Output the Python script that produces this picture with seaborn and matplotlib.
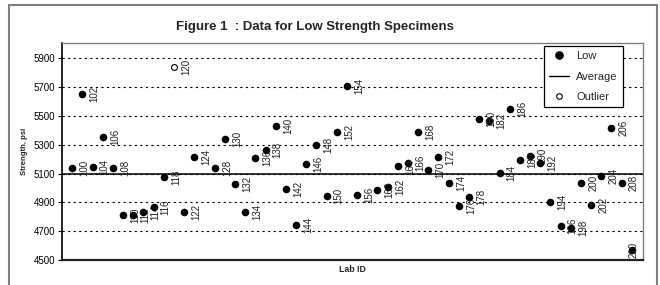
import matplotlib
matplotlib.use("Agg")
import matplotlib.pyplot as plt
import seaborn as sns
import pandas as pd
from matplotlib.lines import Line2D
from matplotlib.patches import Rectangle

# ---- data ----
low_labs = [100, 102, 104, 106, 108, 110, 112, 114, 116, 118, 122, 124,
            128, 130, 132, 134, 136, 138, 140, 142, 144, 146, 148, 150, 152, 154, 156,
            160, 162, 164, 166, 168, 170, 172, 174, 176, 178, 180, 182, 184,
            186, 188, 190, 192, 194, 196, 198, 200, 202, 204, 206, 208, 210]
low_strength = [5137, 5650, 5146, 5357, 5137, 4813, 4813, 4834, 4867, 5075, 4834, 5218,
                5137, 5338, 5026, 4834, 5206, 5266, 5428, 4996, 4746, 5167, 5296, 4945, 5389, 5710, 4954,
                4987, 5005, 5149, 5176, 5389, 5125, 5218, 5035, 4876, 4936, 5477, 5468, 5107,
                5549, 5197, 5225, 5176, 4903, 4735, 4723, 5033, 4885, 5086, 5417, 5033, 4571]
outlier_labs = [120]
outlier_strength = [5842]
average_strength = 5100
y_ticks = [4500, 4700, 4900, 5100, 5300, 5500, 5700, 5900]
legend_labels = ["Low", "Average", "Outlier"]
title_text = "Figure 1  : Data for Low Strength Specimens"
x_label = "Lab ID"
y_label = "Strength, psi"

sns.set_theme(style="white")
plt.rcParams['font.family'] = ['Liberation Sans', 'DejaVu Sans']
plt.rcParams['lines.scale_dashes'] = False

W, H = 660, 285
fig = plt.figure(figsize=(W / 100, H / 100), dpi=100)
fig.patch.set_facecolor("white")
ax = fig.add_axes([62 / W, 1 - 260 / H, (643 - 62) / W, (260 - 43.3) / H])

df_low = pd.DataFrame({"lab": low_labs, "strength": low_strength})
df_out = pd.DataFrame({"lab": outlier_labs, "strength": outlier_strength})

# gridlines
for yv in y_ticks[1:]:
    ax.axhline(yv, color="black", lw=0.8, ls=(0, (1.6, 2.4)), zorder=1)
# average line
ax.axhline(average_strength, color="black", lw=1.1, zorder=2)

sns.scatterplot(data=df_low, x="lab", y="strength", ax=ax, color="black",
                s=30, linewidth=0, zorder=3, legend=False)
sns.scatterplot(data=df_out, x="lab", y="strength", ax=ax, color="white",
                edgecolor="black", s=18, linewidth=0.8, zorder=3, legend=False)

xmin, xmax = 98, 212.2
for lab, val in list(zip(low_labs, low_strength)) + list(zip(outlier_labs, outlier_strength)):
    off = 8.8 if lab < 209 else 1.5
    ax.annotate(str(lab), (lab, val), xytext=(off, 0), textcoords="offset points",
                rotation=90, ha="center", va="center", fontsize=7, color="#222222",
                zorder=4)

ax.set_xlim(xmin, xmax)
ax.set_ylim(4500, 6004)
ax.set_yticks(y_ticks)
ax.set_yticklabels([str(t) for t in y_ticks])
ax.tick_params(axis="y", left=True, direction="out", length=3, width=0.8,
               color="black", labelsize=7, pad=2, labelcolor="black")
ax.tick_params(axis="x", bottom=False, labelbottom=False)
ax.set_xlabel("")
ax.set_ylabel("")

for side, col, lw in [("left", "black", 1.2), ("bottom", "#222222", 1.6),
                      ("top", "#808080", 1.0), ("right", "#808080", 1.0)]:
    ax.spines[side].set_visible(True)
    ax.spines[side].set_color(col)
    ax.spines[side].set_linewidth(lw)

handles = [Line2D([], [], marker="o", ls="none", color="black", markersize=5.2),
           Line2D([], [], color="black", lw=1.0),
           Line2D([], [], marker="o", ls="none", markerfacecolor="white",
                  markeredgecolor="black", markersize=4, markeredgewidth=0.8)]
leg = ax.legend(handles, legend_labels, loc="upper right",
                bbox_to_anchor=(0.965, 0.9875), borderaxespad=0, fontsize=8,
                frameon=True, fancybox=False, framealpha=1, edgecolor="black",
                labelspacing=0.95, handlelength=1.8, handletextpad=0.6,
                borderpad=0.45)
leg.get_frame().set_linewidth(0.9)
leg.set_zorder(5)

fig.text(314.5 / W, 1 - 27 / H, title_text, ha="center", va="center",
         fontsize=9.5, fontweight="bold")
fig.text(352 / W, 1 - 270 / H, x_label, ha="center", va="center",
         fontsize=6.3, fontweight="bold")
fig.text(25 / W, 1 - 151 / H, y_label, ha="center", va="center", rotation=90,
         fontsize=5.6, fontweight="bold")

fig.patches.append(Rectangle((9 / W, -0.05), (657 - 9) / W, 1 - 5 / H + 0.05,
                             transform=fig.transFigure, fill=False,
                             edgecolor="#7f7f7f", lw=1.5))

fig.savefig("out.png", dpi=100)
